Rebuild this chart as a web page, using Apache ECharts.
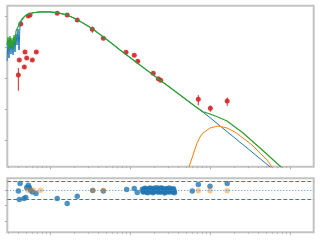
<!DOCTYPE html>
<html>
<head>
<meta charset="utf-8">
<script src="https://cdn.jsdelivr.net/npm/echarts@6.0.0/dist/echarts.min.js"></script>
<style>
  html, body { margin: 0; padding: 0; background: #fff; }
  #chart { width: 320px; height: 240px; }
</style>
</head>
<body>
<div id="chart"></div>
<script>
// model grid (wavelength, um) - noisy UV part first, then the smooth part
var modelLam = [0.0290, 0.0299, 0.0307, 0.0316, 0.0325, 0.0335, 0.0345, 0.0355, 0.0365, 0.0376, 0.0387,
  0.0398, 0.0410, 0.0422, 0.0434, 0.0447, 0.0460, 0.0473, 0.0487, 0.0501, 0.0516,
  0.0531, 0.0613, 0.0750, 0.100, 0.122, 0.163, 0.218, 0.335, 0.422, 0.562, 0.750, 1.33, 2.37, 4.22,
  6.49, 8.18, 10.0, 12.6, 16.3, 25.9, 42.2, 56.2, 77.2, 94.4];
// stellar model (blue)
var starFlux = [3.54e-10, 1.68e-9, 4.42e-10, 1.95e-9, 5.94e-10, 1.56e-9, 5.52e-10, 2.10e-9, 6.90e-10, 2.63e-9, 1.16e-9,
  3.81e-9, 8.00e-10, 5.52e-9, 5.13e-9, 7.43e-9, 7.43e-9, 9.28e-9, 9.64e-9, 1.08e-8, 1.09e-8,
  1.12e-8, 1.27e-8, 1.35e-8, 1.35e-8, 1.28e-8, 1.08e-8, 7.71e-9, 3.95e-9, 2.53e-9, 1.45e-9, 8.00e-10, 2.63e-10, 8.62e-11, 2.83e-11,
  1.23e-11, 7.83e-12, 5.28e-12, 3.23e-12, 1.87e-12, 7.05e-13, 2.51e-13, 1.37e-13, 7.00e-14, 4.58e-14];
// total model (green)
var totalFlux = [1.16e-9, 2.10e-9, 8.00e-10, 2.26e-9, 1.00e-9, 1.95e-9, 8.62e-10, 2.44e-9, 1.35e-9, 3.28e-9, 2.83e-9,
  4.42e-9, 4.10e-9, 6.40e-9, 6.40e-9, 8.00e-9, 8.62e-9, 9.28e-9, 1.00e-8, 1.08e-8, 1.09e-8,
  1.12e-8, 1.27e-8, 1.35e-8, 1.35e-8, 1.28e-8, 1.08e-8, 7.71e-9, 3.95e-9, 2.53e-9, 1.45e-9, 8.00e-10, 2.63e-10, 8.62e-11, 2.83e-11,
  1.23e-11, 8.18e-12, 6.90e-12, 5.52e-12, 4.10e-12, 1.68e-12, 5.52e-13, 2.83e-13, 1.35e-13, 8.62e-14];

// dust component (orange)
var dustLam = [5.01, 5.46, 6.13, 6.88, 7.50, 8.18, 10.0, 12.6, 16.3, 20.5, 25.9, 33.5, 42.2, 51.6, 59.6, 66.8];
var dustFlux = [5.13e-14, 1.35e-13, 3.28e-13, 8.00e-13, 1.25e-12, 1.68e-12, 2.44e-12, 2.83e-12, 2.44e-12, 1.81e-12,
  1.16e-12, 6.90e-13, 3.81e-13, 2.26e-13, 1.35e-13, 7.43e-14];

// photometry (red)
var photLam = [0.0402, 0.0413, 0.0477, 0.0487, 0.0511, 0.0601, 0.0674, 0.0431, 0.0535, 0.0562, 0.123, 0.164,
  0.219, 0.338, 0.464, 0.891, 1.13, 1.25, 1.95, 2.26, 2.42, 7.14, 10.1, 16.4];
var photFlux = [1.25e-10, 3.81e-10, 2.26e-10, 6.9e-10, 4.42e-10, 3.81e-10, 6.9e-10, 5.52e-9, 1.0e-8, 1.08e-8, 1.22e-8, 1.08e-8,
  7.43e-9, 3.72e-9, 1.91e-9, 6.75e-10, 5.40e-10, 3.46e-10, 1.42e-10, 9.5e-11, 8.43e-11, 2.06e-11, 1.05e-11, 1.81e-11];
var photErr = [8.6e-11, 3.0e-11, 2.0e-11, 5.5e-11, 3.5e-11, 3.0e-11, 5.5e-11, 4.5e-10, 8e-10, 8.5e-10, 9.5e-10, 8.5e-10,
  6.0e-10, 8.5e-10, 1.5e-10, 5.5e-11, 4.5e-11, 2.8e-11, 1.1e-11, 7.5e-12, 6.5e-12, 7.5e-12, 2.3e-12, 5.5e-12];

// residuals (sigma)
var residLam = [0.0422, 0.0402, 0.0413, 0.0473, 0.0497, 0.0511, 0.0535, 0.0551, 0.0574, 0.0601, 0.0668, 0.123,
  0.164, 0.219, 0.342, 0.464, 0.909, 1.13, 1.23, 6.01, 7.14, 10.0, 16.4];
var residVal = [2.16, -0.23, -3.0, -2.68, -2.35, 0.87, 1.61, 0.87, 0, -0.55, -1.06, -2.68,
  -4.29, -1.94, -0.1, -0.23, 0.23, 0.55, -0.74, -0.23, 1.84, 1.29, 2.16];
var specResidLam = [1.43, 1.45, 1.47, 1.50, 1.52, 1.55, 1.57, 1.60, 1.62, 1.65, 1.67, 1.70, 1.72, 1.75, 1.78, 1.81,
  1.84, 1.87, 1.90, 1.93, 1.96, 1.99, 2.02, 2.06, 2.09, 2.13, 2.16, 2.20, 2.23, 2.27, 2.30, 2.34,
  2.38, 2.42, 2.46, 2.50, 2.54, 2.58, 2.62, 2.66, 2.71, 2.75, 2.80, 2.84, 2.89, 2.93, 2.98, 3.03,
  3.08, 3.13, 3.18, 3.23, 3.28, 3.33, 3.39, 3.44, 3.50, 3.53, 3.55, 3.60];
var specResidVal = [0.3, -0.4, -0.6, 0.2, 0.5, 0.6, -0.2, -0.7, 0.1, 0.3, -0.8, -0.1, 0.4, -0.5, 0.7, 0.4,
  -0.3, 0.1, 0.0, -0.8, -0.6, 0.6, 0.5, -0.3, -0.1, 0.2, 0.8, -0.6, -0.4, 0.5, 0.2, -0.2,
  -0.7, 0.7, 0.3, -0.4, 0.6, 0.0, -0.2, 0.3, -0.9, -0.7, 0.1, 0.5, 0.4, -0.2, -0.5, 0.1,
  0.7, -0.6, -0.1, 0.4, 0.2, -0.3, -0.6, 0.2, 0.5, -0.5, -0.3, -0.8];
var uplLam = [0.0535, 0.0618, 0.0765, 0.342, 0.464, 7.14, 10.0, 16.4];
var uplVal = [0, 0, 0, 0, 0, -0.2, -0.2, -0.2];

var xMin = 0.02924, xMax = 197.8;
var yMin = 1.377e-13, yMax = 2.148e-8;
var rMin = -13.67, rMax = 3.86;

function zip(a, b) { return a.map(function (v, i) { return [v, b[i]]; }); }

var lxMin = Math.log10(xMin), lxMax = Math.log10(xMax);
var xMajor = [-1, 0, 1, 2];
var xMinor = [];
for (var e = -2; e <= 2; e++) {
  for (var k = 2; k <= 9; k++) {
    var v = e + Math.log10(k);
    if (v > lxMin && v < lxMax) xMinor.push(v);
  }
}
var yMajor = [-12, -11, -10, -9, -8];

var tickCol = '#adadad';
var frame = '#c3c3c3';

function dataAxis(type, grid, min, max) {
  return {
    type: type, gridIndex: grid, min: min, max: max,
    axisLine: { show: false, onZero: false }, axisTick: { show: false },
    axisLabel: { show: false }, splitLine: { show: false }
  };
}
function tickAxis(grid, pos, min, max, ticks, len) {
  return {
    type: 'value', gridIndex: grid, position: pos, min: min, max: max,
    axisLine: { show: false, onZero: false },
    axisTick: { show: true, customValues: ticks, length: len, lineStyle: { color: tickCol, width: 1 } },
    axisLabel: { show: false }, splitLine: { show: false }
  };
}

var chart = echarts.init(document.getElementById('chart'), null, { renderer: 'canvas' });
var lineBase = { type: 'line', xAxisIndex: 0, yAxisIndex: 0, showSymbol: false, symbol: 'none', clip: true, silent: true };

chart.setOption({
  animation: false,
  backgroundColor: '#fff',
  grid: [
    { left: 7.3, top: 5.7, width: 306.4, height: 161, show: true, borderColor: frame, borderWidth: 2 },
    { left: 7.3, top: 178.3, width: 306.4, height: 54, show: true, borderColor: frame, borderWidth: 2 }
  ],
  xAxis: [
    dataAxis('log', 0, xMin, xMax),
    tickAxis(0, 'bottom', lxMin, lxMax, xMajor, 2.5),
    tickAxis(0, 'bottom', lxMin, lxMax, xMinor, 1.5),
    dataAxis('log', 1, xMin, xMax),
    tickAxis(1, 'bottom', lxMin, lxMax, xMajor, 2.5),
    tickAxis(1, 'bottom', lxMin, lxMax, xMinor, 1.5)
  ],
  yAxis: [
    dataAxis('log', 0, yMin, yMax),
    tickAxis(0, 'left', Math.log10(yMin), Math.log10(yMax), yMajor, 2.5),
    tickAxis(1, 'left', rMin, rMax, [-10, -5, 0], 2.5)
  ],
  series: [
    Object.assign({}, lineBase, { data: zip(modelLam, starFlux), lineStyle: { color: '#1f77b4', width: 1 } }),
    Object.assign({}, lineBase, { data: zip(dustLam, dustFlux), lineStyle: { color: '#ff7f0e', width: 1 } }),
    Object.assign({}, lineBase, { data: zip(modelLam, totalFlux), lineStyle: { color: '#2ca02c', width: 1.2 } }),
    {
      type: 'custom', xAxisIndex: 0, yAxisIndex: 0, silent: true,
      data: photLam.map(function (l, i) { return [l, photFlux[i] - photErr[i], photFlux[i] + photErr[i]]; }),
      renderItem: function (params, api) {
        var p1 = api.coord([api.value(0), api.value(1)]);
        var p2 = api.coord([api.value(0), api.value(2)]);
        return { type: 'line', shape: { x1: p1[0], y1: p1[1], x2: p2[0], y2: p2[1] },
                 style: { stroke: '#d62728', lineWidth: 1 } };
      }
    },
    {
      type: 'scatter', xAxisIndex: 0, yAxisIndex: 0, silent: true,
      data: zip(photLam, photFlux), symbolSize: 5,
      itemStyle: { color: '#d62728', opacity: 0.9 }
    },
    {
      type: 'scatter', xAxisIndex: 3, yAxisIndex: 2, silent: true,
      data: zip(residLam, residVal), symbolSize: 5.5,
      itemStyle: { color: '#1f77b4' },
      markLine: {
        silent: true, symbol: 'none', label: { show: false },
        data: [
          { yAxis: 3, lineStyle: { color: '#3b7bb3', width: 1, type: [4, 2] } },
          { yAxis: -3, lineStyle: { color: '#3b7bb3', width: 1, type: [4, 2] } },
          { yAxis: 0, lineStyle: { color: '#4a8cc4', width: 1, type: [1, 2] } }
        ]
      }
    },
    {
      type: 'scatter', xAxisIndex: 3, yAxisIndex: 2, silent: true,
      data: zip(specResidLam, specResidVal), symbolSize: 5.5,
      itemStyle: { color: '#1f77b4' }
    },
    {
      type: 'scatter', xAxisIndex: 3, yAxisIndex: 2, silent: true,
      data: zip(uplLam, uplVal), symbolSize: 5.5,
      itemStyle: { color: '#ff7f0e', opacity: 0.45 }
    }
  ]
});
</script>
</body>
</html>
